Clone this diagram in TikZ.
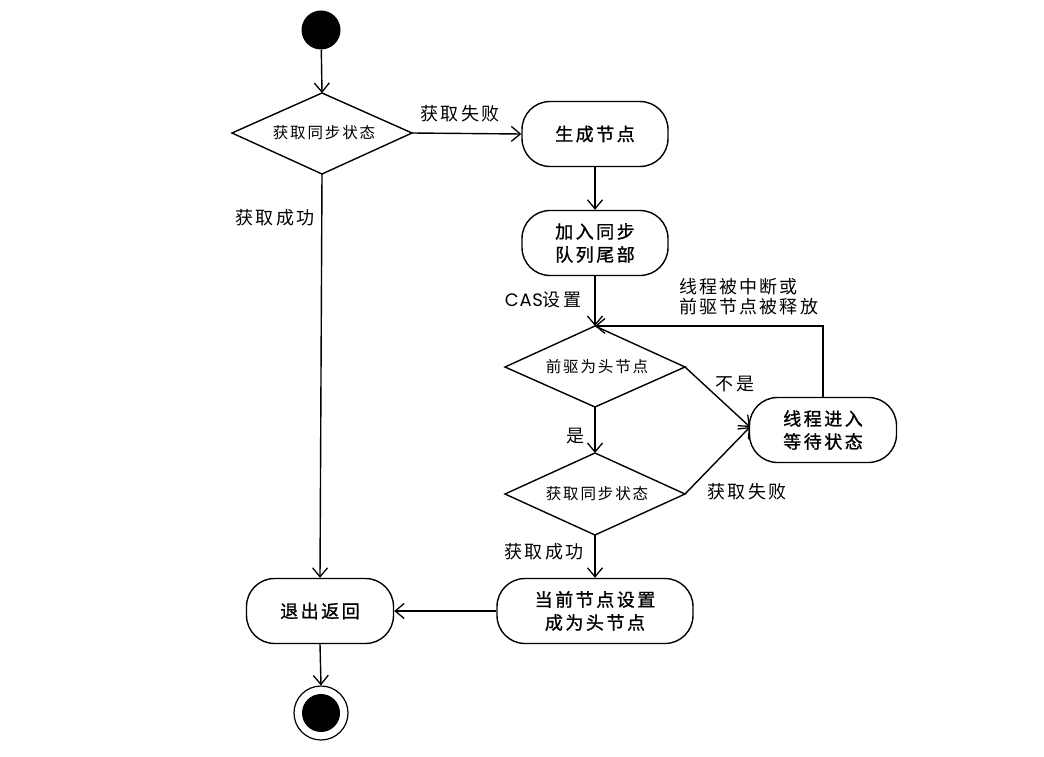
\documentclass[tikz,border=0pt]{standalone}
\usepackage{fontspec}
\setmainfont{Noto Sans CJK SC}[LetterSpace=12]
\newfontfamily\boxfont{Noto Sans CJK SC}[LetterSpace=14,FakeBold=1.2]
\newfontfamily\latinfont{Poppins}[LetterSpace=4]
\usetikzlibrary{arrows.meta}
\begin{document}
\begin{tikzpicture}[x=1pt,y=-1pt,
  every node/.style={inner sep=0pt},
  line/.style={line width=1.4pt,-{Straight Barb[length=9pt,width=15pt,line width=1.3pt]}},
  act/.style={draw,line width=1.4pt,rounded corners=28pt,minimum width=146pt,minimum height=65pt,align=center,font=\boxfont\fontsize{18}{23}\selectfont},
  dec/.style={line width=1.4pt},
  dectext/.style={font=\fontsize{15.5}{18}\selectfont},
  lbl/.style={font=\fontsize{18}{20}\selectfont,align=left}
]
\useasboundingbox (0,0) rectangle (1044,757);
\node[circle,fill=black,minimum size=39pt] (start) at (321,30) {};
% decision 0
\coordinate (d0n) at (322,93); \coordinate (d0s) at (322,174);
\coordinate (d0w) at (232,133); \coordinate (d0e) at (412,133);
\draw[dec] (d0n) -- (d0e) -- (d0s) -- (d0w) -- cycle;
\node[dectext] (d0) at (324,133) {获取同步状态};
% decision 1
\coordinate (d1n) at (595,326); \coordinate (d1s) at (595,407);
\coordinate (d1w) at (505,367); \coordinate (d1e) at (685,367);
\draw[dec] (d1n) -- (d1e) -- (d1s) -- (d1w) -- cycle;
\node[dectext] (d1) at (597,367) {前驱为头节点};
% decision 2
\coordinate (d2n) at (595,453); \coordinate (d2s) at (595,535);
\coordinate (d2w) at (505,494); \coordinate (d2e) at (685,494);
\draw[dec] (d2n) -- (d2e) -- (d2s) -- (d2w) -- cycle;
\node[dectext] (d2) at (597,494) {获取同步状态};

\node[act] (gen) at (595,134) {生成节点};
\node[act] (enq) at (595,243) {加入同步\\队列尾部};
\node[act,minimum width=147pt] (wait) at (823,430) {线程进入\\等待状态};
\node[act,minimum width=196pt] (head) at (595,611) {当前节点设置\\成为头节点};
\node[act,minimum width=147pt] (exit) at (320,611) {退出返回};
\node[circle,draw,line width=1.2pt,minimum size=54pt] (end) at (321,713) {};
\node[circle,fill=black,minimum size=38pt] (endin) at (321,713) {};

\draw[line] (start) -- (d0n);
\draw[line] (d0e) -- (gen.west);
\node[lbl] (l0) at (460,114) {获取失败};
\draw[line] (d0s) -- (exit.north);
\node[lbl] (l1) at (275,218) {获取成功};
\draw[line] (gen) -- (enq);
\draw[line] (enq) -- (d1n);
\node[lbl] (l2) at (543,300) {{\latinfont CAS}设置};
\coordinate (corner) at (wait.north |- d1n);
\draw[line] (wait.north) -- (corner) -- (d1n);
\node[lbl,anchor=west] (l3) at (679,297) {线程被中断或\\前驱节点被释放};
\coordinate (wl) at (750,427);
\draw[line] (d1e) -- (wl);
\node[lbl] (l4) at (735,384) {不是};
\draw[line] (d1s) -- (d2n);
\node[lbl] (l5) at (575,436) {是};
\draw[line] (d2e) -- (wl);
\node[lbl] (l6) at (747,492) {获取失败};
\draw[line] (d2s) -- (head.north);
\node[lbl] (l7) at (544,552) {获取成功};
\draw[line] (head.west) -- (exit.east);
\draw[line] (exit.south) -- (end.north);
\end{tikzpicture}
\end{document}
